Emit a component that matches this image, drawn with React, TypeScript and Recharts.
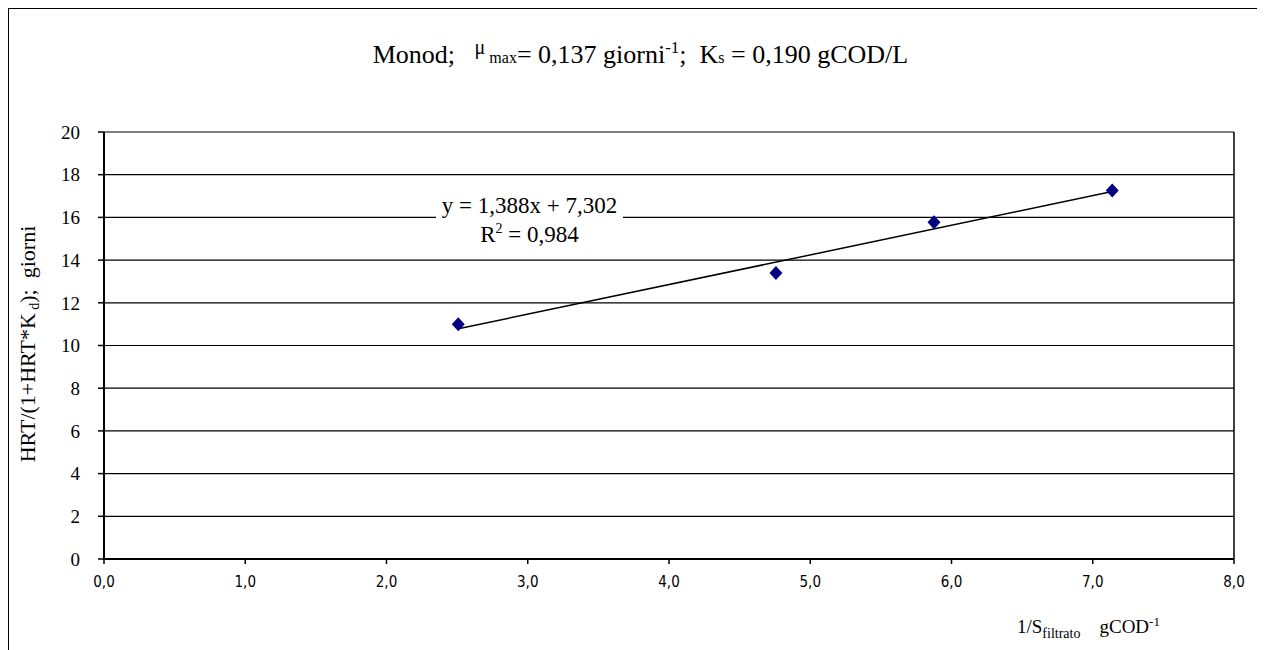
import {
  CartesianGrid,
  ComposedChart,
  ReferenceLine,
  Scatter,
  XAxis,
  YAxis,
} from "recharts";

const xValues = [2.508, 4.757, 5.876, 7.138];
const yValues = [11.0, 13.4, 15.77, 17.26];
const xTicks = [0, 1, 2, 3, 4, 5, 6, 7, 8];
const yTicks = [0, 2, 4, 6, 8, 10, 12, 14, 16, 18, 20];
const slope = 1.388;
const intercept = 7.302;

const points = xValues.map((x, i) => ({ x, y: yValues[i] }));
const trendX = [Math.min(...xValues), Math.max(...xValues)];
const trendPoints = trendX.map((x) => ({ x, y: slope * x + intercept }));

const serif = "Liberation Serif, Times New Roman, DejaVu Serif, serif";

function Diamond(props: any) {
  const { cx, cy } = props;
  if (cx == null || cy == null) return null;
  return (
    <polygon
      points={`${cx},${cy - 7} ${cx + 6.5},${cy} ${cx},${cy + 7} ${cx - 6.5},${cy}`}
      fill="#000080"
    />
  );
}

export default function App() {
  return (
    <div
      style={{
        position: "relative",
        width: 1255,
        height: 660,
        border: "1px solid #000",
        boxSizing: "border-box",
        background: "#fff",
        fontFamily: serif,
        color: "#000",
      }}
    >
      <style>{`html,body{overflow:hidden;background:#fff}`}</style>

      <div
        style={{
          position: "absolute",
          left: 0,
          top: 31,
          width: 1263,
          textAlign: "center",
          fontFamily: serif,
          fontSize: 26,
          whiteSpace: "pre",
          lineHeight: "30px",
        }}
      >
        {"Monod;   "}
        <span style={{ fontSize: 20, position: "relative", top: -9 }}>μ</span>
        <span style={{ fontSize: 16 }}> max</span>
        {"= 0,137 giorni"}
        <span style={{ fontSize: 17, position: "relative", top: -10 }}>-1</span>
        {";  K"}
        <span style={{ fontSize: 16 }}>s</span>
        {" = 0,190 gCOD/L"}
      </div>

      <ComposedChart
        width={1253}
        height={650}
        margin={{ top: 123, right: 28, bottom: 70, left: 35 }}
      >
        <CartesianGrid vertical={false} stroke="#000" strokeWidth={1.2} />
        <XAxis
          type="number"
          dataKey="x"
          domain={[0, 8]}
          ticks={xTicks}
          interval={0}
          height={30}
          axisLine={{ stroke: "#000", strokeWidth: 2 }}
          tickLine={{ stroke: "#000", strokeWidth: 1.5 }}
          tickSize={5}
          tickMargin={12}
          tickFormatter={(v: number) => v.toFixed(1).replace(".", ",")}
          tick={{
            fill: "#000",
            fontSize: 15,
            fontFamily: "Liberation Sans Narrow, DejaVu Sans Condensed, sans-serif",
          }}
        />
        <YAxis
          type="number"
          dataKey="y"
          domain={[0, 20]}
          ticks={yTicks}
          interval={0}
          width={60}
          axisLine={{ stroke: "#000", strokeWidth: 2 }}
          tickLine={{ stroke: "#000", strokeWidth: 1.5 }}
          tickSize={6}
          tickMargin={18}
          tick={{ fill: "#000", fontSize: 19, fontFamily: serif }}
        />
        <ReferenceLine x={8} stroke="#000" strokeWidth={1.5} />
        <Scatter
          data={trendPoints}
          line={{ stroke: "#000", strokeWidth: 1.5 }}
          lineType="joint"
          shape={() => <g />}
          isAnimationActive={false}
        />
        <Scatter data={points} shape={<Diamond />} isAnimationActive={false} />
      </ComposedChart>

      <div
        style={{
          position: "absolute",
          left: 427,
          top: 181,
          width: 187,
          height: 69,
          background: "#fff",
          textAlign: "center",
          fontFamily: serif,
          fontSize: 23,
          lineHeight: "29px",
          paddingTop: 1,
          boxSizing: "border-box",
        }}
      >
        <div>y = 1,388x + 7,302</div>
        <div>
          R<sup style={{ fontSize: 14, verticalAlign: "9px", lineHeight: 0 }}>2</sup> = 0,984
        </div>
      </div>

      <div
        style={{
          position: "absolute",
          left: 19,
          top: 335,
          transform: "translate(-50%, -50%) rotate(-90deg)",
          fontFamily: serif,
          fontSize: 22,
          whiteSpace: "pre",
        }}
      >
        {"HRT/(1+HRT*K"}
        <span style={{ fontSize: 14, position: "relative", top: 4 }}> d</span>
        {");  giorni"}
      </div>

      <div
        style={{
          position: "absolute",
          left: 1008,
          top: 607,
          fontFamily: serif,
          fontSize: 19,
          whiteSpace: "pre",
        }}
      >
        {"1/S"}
        <span style={{ fontSize: 14, position: "relative", top: 5 }}>filtrato</span>
        {"    gCOD"}
        <span style={{ fontSize: 13, position: "relative", top: -7 }}>-1</span>
      </div>
    </div>
  );
}
